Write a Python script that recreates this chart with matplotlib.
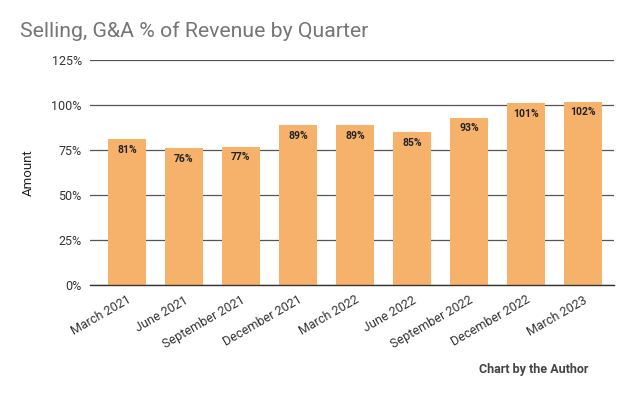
import matplotlib
matplotlib.use("Agg")
import matplotlib.pyplot as plt

quarters = ["March 2021", "June 2021", "September 2021", "December 2021", "March 2022",
            "June 2022", "September 2022", "December 2022", "March 2023"]
values = [81, 76, 77, 89, 89, 85, 93, 101, 102]
yticks = [0, 25, 50, 75, 100, 125]

plt.rcParams['font.family'] = ['Roboto', 'DejaVu Sans']

fig = plt.figure(figsize=(6.4, 3.96), dpi=100)
ax = fig.add_axes([0.1406, 0.280, 0.8188, 0.568])
x = list(range(len(quarters)))
ax.bar(x, values, width=0.667, color='#F6B26B', zorder=3)
for xi, v in zip(x, values):
    ax.annotate(f"{v}%", (xi, v), xytext=(0, -4), textcoords='offset points',
                ha='center', va='top', fontsize=7.5, fontweight='bold', color='#222222', zorder=4)
ax.set_xlim(-0.649, len(quarters) - 1 + 0.544)
ax.set_ylim(0, 125)
ax.set_yticks(yticks)
ax.set_yticklabels([f"{t}%" for t in yticks], fontsize=9, color='#333333')
ax.set_xticks(x)
ax.set_xticklabels(quarters, rotation=30, ha='right', rotation_mode='anchor', fontsize=9, color='#333333')
ax.tick_params(length=0, pad=6)
ax.grid(axis='y', color='#555555', linewidth=0.9, zorder=0)
for s in ['top', 'right', 'left']:
    ax.spines[s].set_visible(False)
ax.spines['bottom'].set_color('#333333')
ax.spines['bottom'].set_linewidth(1.0)
ax.spines['bottom'].set_zorder(5)
ax.set_ylabel("Amount", fontsize=9.5, color='#222222', labelpad=12)

fig.text(0.031, 0.92, "Selling, G&A % of Revenue by Quarter", fontsize=15.3, color='#757575', va='center')
fig.text(0.919, 0.068, "Chart by the Author", fontsize=9, fontweight='bold', color='#444444', ha='right', va='center')

fig.savefig("out.png", dpi=100)
